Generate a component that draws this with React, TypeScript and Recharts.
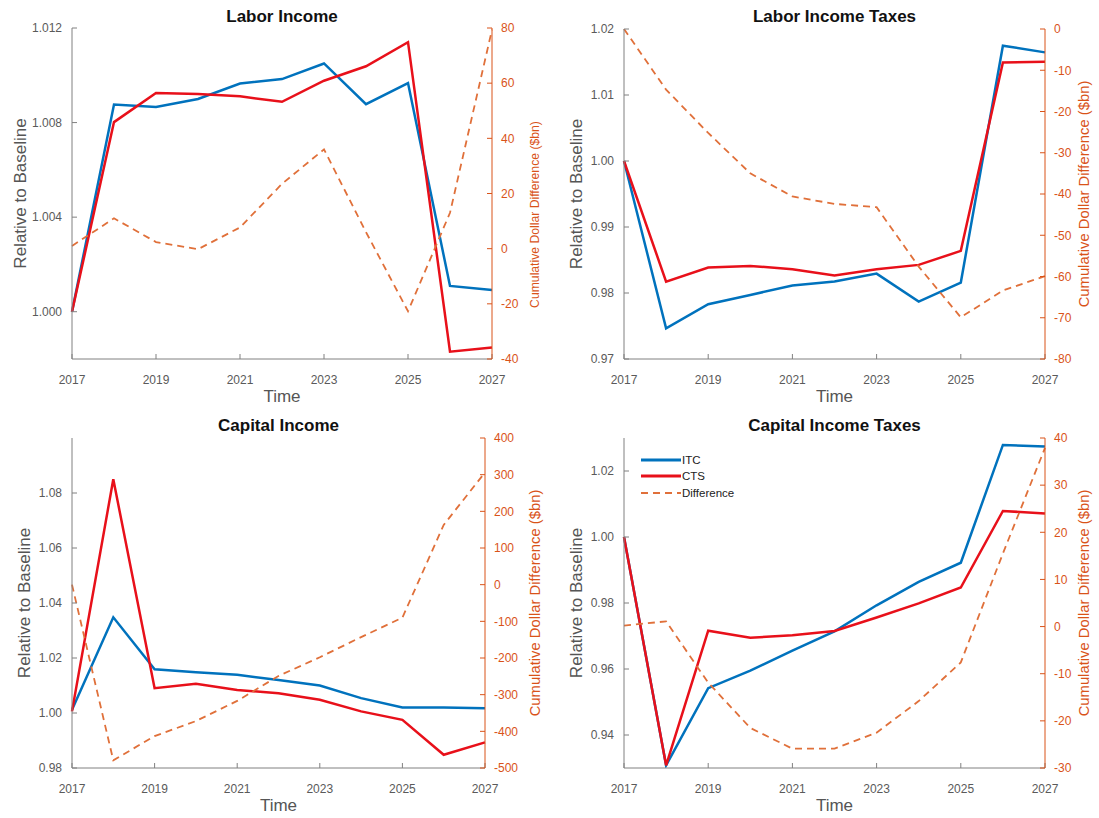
import { LineChart, Line, XAxis, YAxis, Legend } from 'recharts';

const years = [2017, 2018, 2019, 2020, 2021, 2022, 2023, 2024, 2025, 2026, 2027];
const yearTicks = [2017, 2019, 2021, 2023, 2025, 2027];

// Labor Income
const laborIncomeItc = [1.0, 1.00876, 1.00866, 1.0090, 1.00965, 1.00984, 1.0105, 1.00878, 1.00967, 1.00109, 1.00092];
const laborIncomeCts = [1.0, 1.00802, 1.00925, 1.00921, 1.00911, 1.00888, 1.00977, 1.01038, 1.0114, 0.99831, 0.99849];
const laborIncomeDiff = [1, 11, 2.4, -0.2, 7.7, 23.5, 36, 6, -22.7, 13, 79.4];

// Labor Income Taxes
const laborTaxItc = [1.0, 0.97465, 0.97829, 0.97971, 0.98112, 0.98173, 0.98294, 0.9787, 0.98158, 1.01747, 1.01646];
const laborTaxCts = [1.0, 0.98173, 0.98385, 0.9841, 0.9836, 0.98264, 0.9836, 0.98426, 0.98638, 1.01494, 1.01504];
const laborTaxDiff = [0, -14.7, -25.2, -35, -40.6, -42.4, -43.2, -57.6, -69.9, -63.4, -59.9];

// Capital Income
const capIncomeItc = [1.0012, 1.0348, 1.0159, 1.0148, 1.0139, 1.012, 1.01, 1.0054, 1.002, 1.002, 1.0017];
const capIncomeCts = [1.0006, 1.085, 1.009, 1.0106, 1.0084, 1.0072, 1.0048, 1.0006, 0.9975, 0.9848, 0.9893];
const capIncomeDiff = [0, -479, -413, -372, -317, -249, -198, -143, -90, 163, 306];

// Capital Income Taxes
const capTaxItc = [1.0, 0.9308, 0.9542, 0.9595, 0.9656, 0.9714, 0.9793, 0.9864, 0.9922, 1.0279, 1.0274];
const capTaxCts = [1.0, 0.9308, 0.9716, 0.9695, 0.9702, 0.9715, 0.9756, 0.9799, 0.9847, 1.0079, 1.0071];
const capTaxDiff = [0.2, 1.1, -11.9, -21.5, -25.9, -25.9, -22.5, -15.8, -7.6, 15.5, 37.9];

const legendOrder = ['ITC', 'CTS', 'Difference'];

const FONT = '"Liberation Sans", Arial, Helvetica, sans-serif';
const BLUE = '#0072BD';
const RED = '#E8101A';
const ORANGE = '#D95319';
const DIFF = '#E0703A';
const GREY = '#5a5a5a';
const AXIS = '#808080';
const HEIGHT = 409;

type PanelProps = {
  title: string;
  x: number;
  y: number;
  width: number;
  leftW: number;
  rightW: number;
  plotTop: number;
  itc: number[];
  cts: number[];
  diff: number[];
  leftDomain: [number, number];
  leftTicks: number[];
  digits: number;
  rightDomain: [number, number];
  rightTicks: number[];
  leftLabelX: number;
  rightLabelX: number;
  rightLabelShift?: number;
  rightLabelSize?: number;
  legend?: boolean;
};

const LegendBox = (props: any) => {
  const items = [...(props.payload || [])].sort(
    (a: any, b: any) => legendOrder.indexOf(a.value) - legendOrder.indexOf(b.value)
  );
  return (
    <div style={{ fontFamily: FONT, fontSize: 11.5, color: '#222', lineHeight: '16px' }}>
      {items.map((it: any) => (
        <div key={it.value} style={{ display: 'flex', alignItems: 'center', height: 16.3 }}>
          <svg width={41} height={6}>
            <line
              x1={0}
              x2={40}
              y1={3}
              y2={3}
              stroke={it.color}
              strokeWidth={it.dataKey === 'diff' ? 1.8 : 3}
              strokeDasharray={it.dataKey === 'diff' ? '7 5' : undefined}
            />
          </svg>
          <span>{it.value}</span>
        </div>
      ))}
    </div>
  );
};

const rotLabel = (text: string, fromLeft: number | null, fromRight: number | null, color: string, size: number, shift = 0) =>
  (props: any) => {
    const vb = props.viewBox || {};
    const cx = fromLeft !== null ? vb.x + fromLeft : vb.x + vb.width - (fromRight as number);
    const cy = vb.y + vb.height / 2 + shift;
    return (
      <text
        x={cx}
        y={cy}
        transform={`rotate(-90 ${cx} ${cy})`}
        textAnchor="middle"
        dominantBaseline="central"
        fill={color}
        fontSize={size}
        fontFamily={FONT}
      >
        {text}
      </text>
    );
  };

function Panel(p: PanelProps) {
  const data = years.map((year, i) => ({ year, itc: p.itc[i], cts: p.cts[i], diff: p.diff[i] }));
  const plotW = p.width - p.leftW - p.rightW;
  return (
    <div style={{ position: 'absolute', left: p.x, top: p.y, width: p.width, height: HEIGHT }}>
      <div
        style={{
          position: 'absolute',
          left: p.leftW,
          width: plotW,
          top: 7,
          textAlign: 'center',
          fontFamily: FONT,
          fontWeight: 'bold',
          fontSize: 17,
          color: '#111',
        }}
      >
        {p.title}
      </div>
      <LineChart
        width={p.width}
        height={HEIGHT}
        data={data}
        margin={{ top: p.plotTop, right: 0, bottom: 0, left: 0 }}
        style={{ fontFamily: FONT }}
      >
        <XAxis
          dataKey="year"
          type="number"
          domain={[2017, 2027]}
          ticks={yearTicks}
          height={50}
          stroke={AXIS}
          tickSize={-5}
          tickMargin={21}
          tick={{ fill: GREY, fontSize: 12 }}
          label={{ value: 'Time', position: 'insideBottom', offset: 7, style: { fill: '#555', fontSize: 17 } }}
        />
        <YAxis
          yAxisId="left"
          orientation="left"
          width={p.leftW}
          domain={p.leftDomain}
          ticks={p.leftTicks}
          allowDataOverflow
          stroke={AXIS}
          tickSize={-5}
          tickMargin={15}
          tick={{ fill: GREY, fontSize: 12 }}
          tickFormatter={(v: number) => v.toFixed(p.digits)}
          label={rotLabel('Relative to Baseline', p.leftLabelX, null, '#555', 17)}
        />
        <YAxis
          yAxisId="right"
          orientation="right"
          width={p.rightW}
          domain={p.rightDomain}
          ticks={p.rightTicks}
          allowDataOverflow
          stroke={ORANGE}
          tickSize={-5}
          tickMargin={14}
          tick={{ fill: ORANGE, fontSize: 12 }}
          label={rotLabel(
            'Cumulative Dollar Difference ($bn)',
            null,
            p.rightLabelX,
            ORANGE,
            p.rightLabelSize ?? 14.8,
            p.rightLabelShift ?? 0
          )}
        />
        <Line yAxisId="left" dataKey="itc" name="ITC" stroke={BLUE} strokeWidth={2.5} dot={false} isAnimationActive={false} />
        <Line yAxisId="left" dataKey="cts" name="CTS" stroke={RED} strokeWidth={2.5} dot={false} isAnimationActive={false} />
        <Line
          yAxisId="right"
          dataKey="diff"
          name="Difference"
          stroke={DIFF}
          strokeWidth={1.8}
          strokeDasharray="7 5"
          dot={false}
          isAnimationActive={false}
        />
        {p.legend && (
          <Legend
            layout="horizontal"
            verticalAlign="middle"
            align="center"
            content={LegendBox}
            wrapperStyle={{ position: 'absolute', left: 92, top: 43, width: 'auto', height: 'auto' }}
          />
        )}
      </LineChart>
    </div>
  );
}

export default function App() {
  return (
    <div style={{ position: 'absolute', left: 0, top: 0, width: 1099, height: 818, background: '#fff' }}>
      <Panel
        title="Labor Income"
        x={0}
        y={0}
        width={549}
        leftW={72}
        rightW={57}
        plotTop={28}
        itc={laborIncomeItc}
        cts={laborIncomeCts}
        diff={laborIncomeDiff}
        leftDomain={[0.998, 1.012]}
        leftTicks={[1.0, 1.004, 1.008, 1.012]}
        digits={3}
        rightDomain={[-40, 80]}
        rightTicks={[-40, -20, 0, 20, 40, 60, 80]}
        leftLabelX={20}
        rightLabelX={14}
        rightLabelShift={21}
        rightLabelSize={12.2}
      />
      <Panel
        title="Labor Income Taxes"
        x={549}
        y={0}
        width={550}
        leftW={75}
        rightW={54}
        plotTop={29}
        itc={laborTaxItc}
        cts={laborTaxCts}
        diff={laborTaxDiff}
        leftDomain={[0.97, 1.02]}
        leftTicks={[0.97, 0.98, 0.99, 1.0, 1.01, 1.02]}
        digits={2}
        rightDomain={[-80, 0]}
        rightTicks={[-80, -70, -60, -50, -40, -30, -20, -10, 0]}
        leftLabelX={27}
        rightLabelX={15}
      />
      <Panel
        title="Capital Income"
        x={0}
        y={409}
        width={549}
        leftW={72}
        rightW={64}
        plotTop={29}
        itc={capIncomeItc}
        cts={capIncomeCts}
        diff={capIncomeDiff}
        leftDomain={[0.98, 1.1]}
        leftTicks={[0.98, 1.0, 1.02, 1.04, 1.06, 1.08]}
        digits={2}
        rightDomain={[-500, 400]}
        rightTicks={[-500, -400, -300, -200, -100, 0, 100, 200, 300, 400]}
        leftLabelX={24}
        rightLabelX={14}
      />
      <Panel
        title="Capital Income Taxes"
        x={549}
        y={409}
        width={550}
        leftW={75}
        rightW={54}
        plotTop={29}
        itc={capTaxItc}
        cts={capTaxCts}
        diff={capTaxDiff}
        leftDomain={[0.93, 1.03]}
        leftTicks={[0.94, 0.96, 0.98, 1.0, 1.02]}
        digits={2}
        rightDomain={[-30, 40]}
        rightTicks={[-30, -20, -10, 0, 10, 20, 30, 40]}
        leftLabelX={27}
        rightLabelX={15}
        legend
      />
    </div>
  );
}
